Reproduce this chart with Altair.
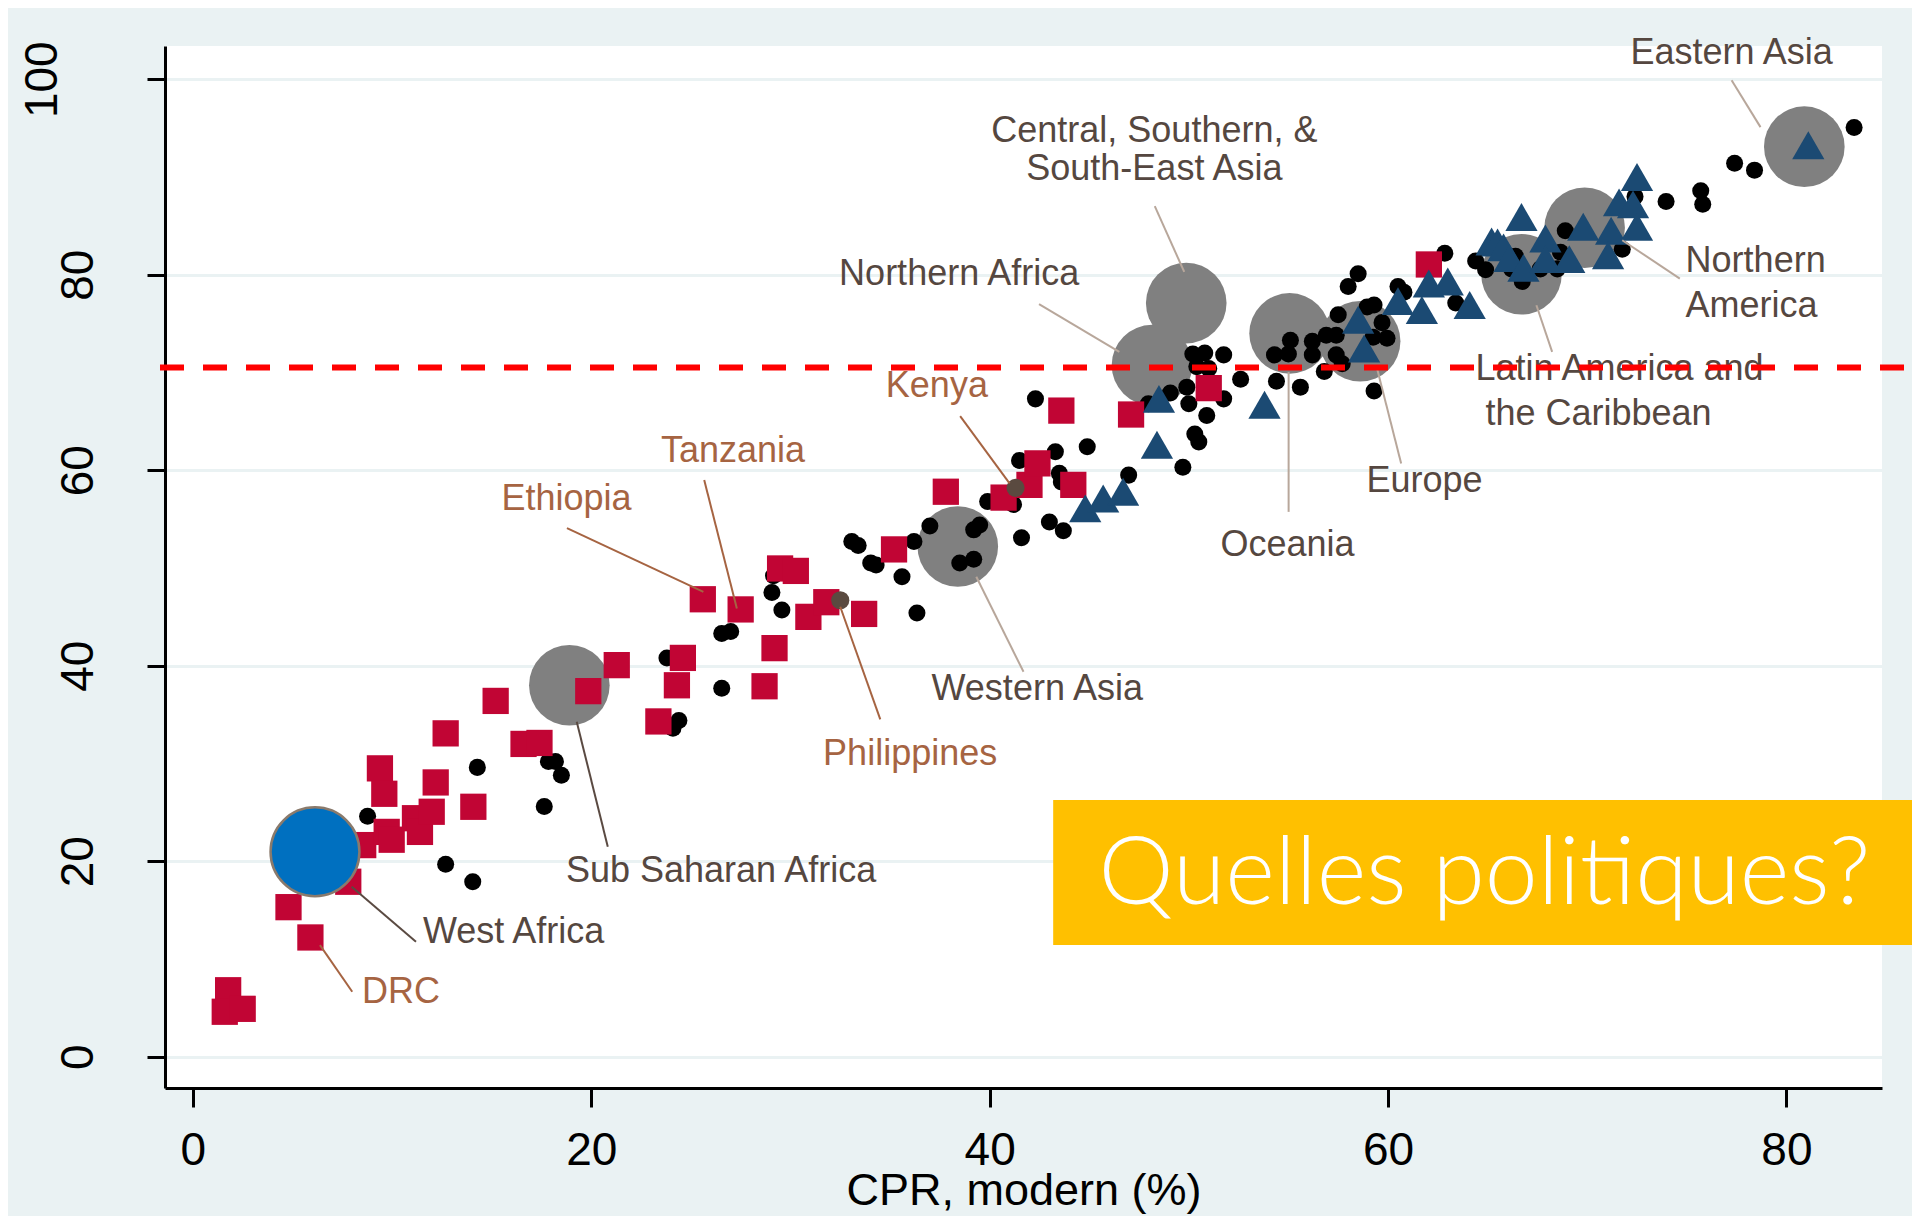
import altair as alt
import pandas as pd

# ---------------- data ----------------
# other countries (black dots)
dot_x = [8.77, 14.28, 12.69, 14.05, 17.85, 18.2, 18.5, 17.64, 23.8, 24.4, 24.1,
         26.55, 26.55, 27.0, 29.57, 29.07, 29.15, 33.08, 33.4, 34.03, 34.3, 35.6, 36.35, 36.2,
         37.0, 39.2, 39.5, 38.5, 39.2, 39.9, 41.2, 41.5, 43.3, 43.5, 43.6, 44.9, 42.3, 41.6,
         43.0, 43.7, 46.98,
         49.7, 50.3, 50.5, 50.9, 51.75, 50.0, 49.9, 47.97, 49.07, 50.2, 50.8, 51.0, 50.4, 51.75,
         52.6, 54.3, 55.0, 55.1, 54.4, 55.6, 56.2, 56.2, 56.8, 56.9, 57.4, 57.4, 57.7, 57.5, 58.0,
         58.5, 58.95, 59.3, 59.7, 59.95, 59.25, 59.3, 60.5, 60.8, 63.4, 62.85, 64.4, 64.9,
         66.4, 66.74, 66.2, 67.65, 68.5, 68.66, 68.9, 71.76, 72.4, 73.96, 75.7, 75.8, 77.4, 78.4, 83.4]
dot_y = [24.6, 29.6, 19.7, 17.9, 30.2, 30.2, 28.8, 25.6, 40.8, 34.4, 33.6,
         37.7, 43.3, 43.5, 45.7, 47.5, 49.2, 52.7, 52.3, 50.5, 50.3, 49.1, 45.4, 52.7,
         54.3, 53.9, 54.4, 50.5, 50.9, 56.8, 56.5, 61.0, 61.9, 59.7, 58.8, 62.4, 67.3, 53.1,
         54.7, 53.8, 59.5,
         60.3, 63.7, 62.9, 65.6, 67.3, 66.8, 68.5, 66.8, 67.9, 71.9, 72.0, 70.4, 70.6, 71.8,
         69.3, 71.8, 71.9, 73.3, 69.1, 68.5, 73.2, 71.8, 70.1, 73.8, 73.8, 71.8, 70.9, 75.9, 78.8,
         80.1, 76.7, 76.9, 75.1, 73.5, 73.6, 68.1, 78.8, 78.2, 77.1, 82.2, 81.4, 80.5,
         81.9, 79.3, 80.6, 80.6, 80.6, 82.3, 84.5, 82.6, 88.0, 87.5, 88.6, 87.2, 91.4, 90.7, 95.06]

# Sub-Saharan African countries (red squares)
sq_x = [1.77, 1.6, 2.5, 5.9, 4.8, 7.8, 8.55, 9.73, 9.98, 9.39, 9.61, 11.15, 11.4, 11.99, 12.19,
        12.69, 14.08, 15.2, 16.6, 17.4, 19.85, 21.28, 24.3, 24.6, 23.37, 25.6, 27.5, 29.2, 28.7,
        29.48, 30.27, 30.9, 31.8, 33.7, 35.2, 37.8, 40.7, 42.0, 42.4, 44.2, 43.6, 47.1, 51.0, 62.05]
sq_y = [6.8, 4.6, 4.9, 12.2, 15.3, 17.9, 21.65, 23.0, 22.2, 29.5, 26.9, 24.4, 23.0, 25.06, 28.06,
        33.08, 25.57, 36.4, 32.0, 32.1, 37.4, 40.06, 38.0, 40.8, 34.3, 46.8, 45.76, 41.8, 37.9,
        49.95, 49.7, 45.0, 46.5, 45.3, 51.9, 57.8, 57.2, 58.5, 60.7, 58.5, 66.1, 65.7, 68.4, 81.05]

# developed countries (blue triangles)
tri_x = [44.8, 45.7, 46.7, 48.4, 48.5, 53.8, 58.8, 58.5, 60.5, 61.7, 62.05, 63.0, 64.1, 65.2, 65.5,
         65.8, 66.1, 66.7, 66.8, 67.9, 67.9, 69.1, 69.8, 71.2, 71.05, 71.6, 72.3, 72.5, 72.5, 81.1]
tri_y = [56.1, 57.1, 57.8, 62.6, 67.3, 66.7, 72.45, 75.4, 77.3, 76.4, 79.1, 79.3, 76.9, 83.4, 83.3,
         82.8, 81.7, 85.9, 80.7, 83.7, 81.6, 81.6, 84.9, 84.5, 82.0, 87.4, 87.2, 84.9, 90.0, 93.25]

# regional averages (grey circles)
region_names = ["Sub Saharan Africa", "Western Asia", "Northern Africa",
                "Central, Southern, & South-East Asia", "Oceania", "Europe",
                "Latin America and the Caribbean", "Northern America", "Eastern Asia"]
region_x = [18.9, 38.4, 48.15, 49.87, 55.06, 58.6, 66.7, 69.87, 80.9]
region_y = [38.0, 52.2, 70.75, 77.1, 74.0, 73.2, 80.05, 84.8, 93.1]

# West Africa (blue circle)
wa_x = [6.13]
wa_y = [20.97]

# highlighted countries (small brown dots)
hl_names = ["Kenya", "Philippines"]
hl_x = [41.3, 32.5]
hl_y = [58.2, 46.7]

target_y = [70.5]

# labels
lab_text = ["Eastern Asia", "Central, Southern, &", "South-East Asia", "Northern Africa",
            "Kenya", "Tanzania", "Ethiopia", "Philippines", "Western Asia", "Oceania", "Europe",
            "Latin America and", "the Caribbean", "Northern", "America",
            "Sub Saharan Africa", "West Africa", "DRC"]
lab_x = [77.25, 48.27, 48.27, 38.47, 37.35, 27.12, 18.76, 36.01, 42.39, 54.95, 61.83,
         64.39, 64.89, 74.94, 74.94, 18.73, 11.55, 8.49]
lab_y = [101.6, 93.56, 89.65, 78.93, 67.5, 60.86, 55.92, 29.84, 36.48, 51.21, 57.79,
         69.21, 64.61, 80.29, 75.69, 17.9, 11.6, 5.46]
lab_kind = ["r", "r", "r", "r", "c", "c", "c", "c", "r", "r", "r",
            "r", "r", "r", "r", "r", "r", "c"]
lab_anchor = ["center"] * 11 + ["left"] * 7

# leader lines
lead_x1 = [77.25, 48.29, 42.48, 38.52, 25.67, 18.78, 34.51, 41.7, 55.01, 60.66, 68.24, 74.65, 20.83, 11.2, 8.0]
lead_y1 = [99.9, 87.01, 76.99, 65.53, 58.99, 54.08, 34.51, 39.38, 55.74, 60.69, 72.11, 79.61, 21.48, 11.76, 6.65]
lead_x2 = [78.7, 49.77, 46.51, 41.0, 27.31, 25.63, 32.5, 39.33, 55.01, 59.45, 67.45, 71.76, 19.27, 7.97, 6.38]
lead_y2 = [95.1, 80.29, 72.11, 58.65, 45.86, 47.56, 46.03, 49.1, 70.06, 70.41, 76.88, 83.53, 34.26, 17.39, 11.42]
lead_kind = ["l", "l", "l", "c", "c", "c", "c", "l", "l", "l", "l", "l", "d", "d", "c"]

# call-out box
box_x = [43.19]
box_x2 = [86.49]
box_y = [26.26]
box_y2 = [11.42]
box_text = ["Quelles politiques?"]
box_text_x = [64.84]
box_text_y = [15.62]

# ---------------- styling ----------------
BG = "#EAF2F3"
TEXT_REGION = "#554740"
TEXT_COUNTRY = "#A66442"
LEAD_COLORS = {"l": "#B8A79B", "c": "#A66442", "d": "#5A4A42"}
FONT = "Liberation Sans"

XS = alt.Scale(domain=[-1.4, 84.8], nice=False, zero=False)
YS = alt.Scale(domain=[-3.2, 103.4], nice=False, zero=False)

xaxis = alt.Axis(values=[0, 20, 40, 60, 80], title="CPR, modern (%)", grid=False,
                 labelFont=FONT, labelFontSize=46, labelColor="black", labelPadding=21,
                 labelBaseline="top", labelFlush=False, labelOverlap=False,
                 tickSize=19, tickWidth=3, tickColor="black",
                 domainColor="black", domainWidth=3,
                 titleFont=FONT, titleFontSize=45, titleFontWeight="normal", titleColor="black",
                 titleBaseline="alphabetic", titleY=116)
yaxis = alt.Axis(values=[0, 20, 40, 60, 80, 100], title=None, grid=True,
                 gridColor=BG, gridWidth=3,
                 labelFont=FONT, labelFontSize=46, labelColor="black", labelAngle=270,
                 labelAlign="center", labelBaseline="alphabetic",
                 labelPadding={"condition": {"test": "datum.value == 100", "value": 91}, "value": 55},
                 labelFlush=False, labelOverlap=False,
                 tickSize=18, tickWidth=3, tickColor="black",
                 domainColor="black", domainWidth=3)


def X(field="x"):
    return alt.X(f"{field}:Q", scale=XS, axis=xaxis)


def Y(field="y"):
    return alt.Y(f"{field}:Q", scale=YS, axis=yaxis)


regions = pd.DataFrame({"name": region_names, "x": region_x, "y": region_y})
dots = pd.DataFrame({"x": dot_x, "y": dot_y})
squares = pd.DataFrame({"x": sq_x, "y": sq_y})
tris = pd.DataFrame({"x": tri_x, "y": tri_y})
wa = pd.DataFrame({"x": wa_x, "y": wa_y})
hl = pd.DataFrame({"name": hl_names, "x": hl_x, "y": hl_y})
labels = pd.DataFrame({"text": lab_text, "x": lab_x, "y": lab_y, "kind": lab_kind, "anchor": lab_anchor})
labels["color"] = [TEXT_COUNTRY if k == "c" else TEXT_REGION for k in lab_kind]
leads = pd.DataFrame({"x": lead_x1, "y": lead_y1, "x2": lead_x2, "y2": lead_y2, "kind": lead_kind})
leads["color"] = [LEAD_COLORS[k] for k in lead_kind]
box = pd.DataFrame({"x": box_x, "x2": box_x2, "y": box_y, "y2": box_y2})
boxtxt = pd.DataFrame({"text": box_text, "x": box_text_x, "y": box_text_y})

l_regions = alt.Chart(regions).mark_circle(size=6500, color="#808080", opacity=1).encode(x=X(), y=Y())
l_dots = alt.Chart(dots).mark_circle(size=290, color="black", opacity=1).encode(x=X(), y=Y())
l_sq = alt.Chart(squares).mark_point(shape="square", filled=True, size=690, color="#C10534",
                                      opacity=1).encode(x=X(), y=Y())
l_tri = alt.Chart(tris).mark_point(shape="triangle-up", filled=True, size=1040, color="#1B4A73",
                                    opacity=1).encode(x=X(), y=Y())
l_wa = alt.Chart(wa).mark_circle(size=7900, color="#0070C0", opacity=1, stroke="#8A7A6C",
                                 strokeWidth=2.5).encode(x=X(), y=Y())
l_hl = alt.Chart(hl).mark_circle(size=330, color="#5A4A40", opacity=1).encode(x=X(), y=Y())
l_leads = alt.Chart(leads).mark_rule(strokeWidth=2).encode(
    x=X(), y=Y(), x2="x2:Q", y2="y2:Q", color=alt.Color("color:N", scale=None))
l_lab_c = alt.Chart(labels[labels.anchor == "center"]).mark_text(
    font=FONT, fontSize=36, align="center", baseline="alphabetic").encode(
    x=X(), y=Y(), text="text:N", color=alt.Color("color:N", scale=None))
l_lab_l = alt.Chart(labels[labels.anchor == "left"]).mark_text(
    font=FONT, fontSize=36, align="left", baseline="alphabetic").encode(
    x=X(), y=Y(), text="text:N", color=alt.Color("color:N", scale=None))
l_target = alt.Chart(pd.DataFrame({"y": target_y})).mark_rule(
    color="#FF0000", strokeWidth=6, strokeDash=[24, 19]).encode(
    y=Y(), x=alt.value(-5), x2=alt.value(1760))
l_box = alt.Chart(box).mark_rect(color="#FFC000", opacity=1).encode(
    x=X(), x2="x2:Q", y=Y(), y2="y2:Q")
l_boxtxt = alt.Chart(boxtxt).mark_text(
    font="Lato", fontWeight=300, fontSize=95, color="white", align="center",
    baseline="alphabetic").encode(x=X(), y=Y(), text="text:N")

chart = alt.layer(
    l_regions, l_dots, l_sq, l_tri, l_wa, l_hl, l_leads, l_lab_c, l_lab_l, l_target, l_box, l_boxtxt
).properties(
    width=1717, height=1042,
    autosize=alt.AutoSizeParams(type="none"),
    padding={"left": 157, "top": 38, "right": 30, "bottom": 128},
    background=BG,
).configure_view(fill="white", stroke=None)

chart.save("out.html", embed_options={"renderer": "svg", "actions": False})
